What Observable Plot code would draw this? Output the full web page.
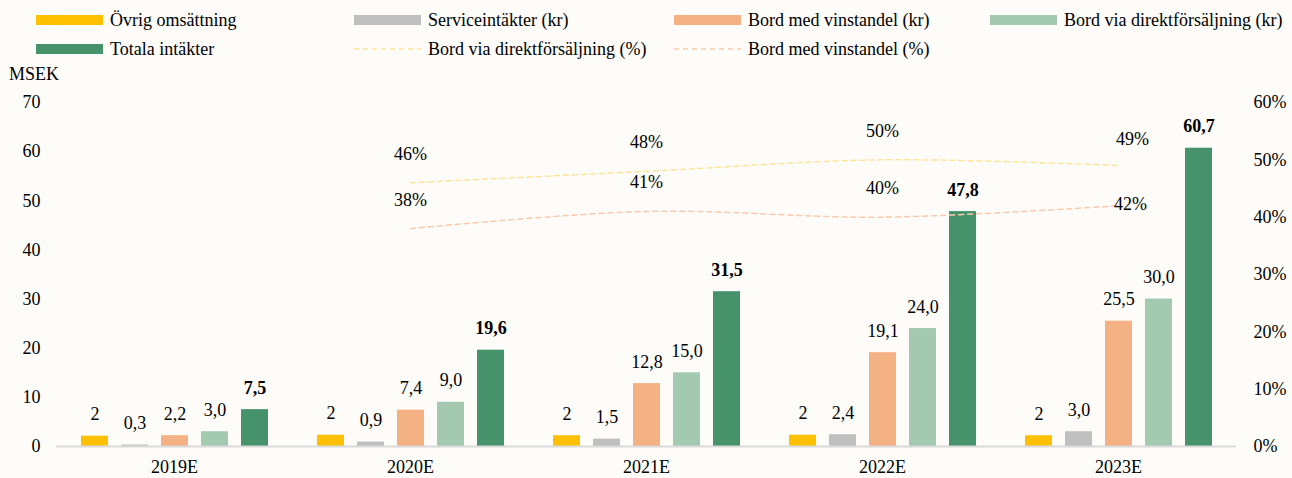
<!DOCTYPE html>
<html>
<head>
<meta charset="utf-8">
<script src="https://cdn.jsdelivr.net/npm/d3@7"></script>
<script src="https://cdn.jsdelivr.net/npm/@observablehq/plot@0.6"></script>
<style>
  html, body { margin: 0; padding: 0; background: #fdfcf9; }
  #wrap { position: relative; width: 1292px; height: 478px; font-family: "Liberation Serif", "Times New Roman", serif; color: #000; background: #fdfcf9; overflow: hidden; }
  #wrap svg { position: absolute; left: 0; top: 0; }
  .leg { position: absolute; display: flex; align-items: center; font-size: 18px; white-space: nowrap; line-height: 1; }
  .sw { width: 67px; height: 10px; margin-right: 7px; display: block; }
  .ds { width: 67px; height: 10px; margin-right: 7px; display: block; }
  #unit { position: absolute; left: 9px; top: 64px; font-size: 18px; line-height: 1.2; }
</style>
</head>
<body>
<div id="wrap">
  <div id="legend"></div>
  <div id="unit">MSEK</div>
</div>
<script>
// ---- data ----
const years = ["2019E", "2020E", "2021E", "2022E", "2023E"];
const seriesNames = ["Övrig omsättning", "Serviceintäkter (kr)", "Bord med vinstandel (kr)", "Bord via direktförsäljning (kr)", "Totala intäkter"];
const ovrig = [2.1, 2.3, 2.2, 2.3, 2.2];
const service = [0.3, 0.9, 1.5, 2.4, 3.0];
const vinstandel = [2.2, 7.4, 12.8, 19.1, 25.5];
const direkt = [3.0, 9.0, 15.0, 24.0, 30.0];
const totala = [7.5, 19.6, 31.5, 47.8, 60.7];
const pctYears = ["2020E", "2021E", "2022E", "2023E"];
const direktPctName = "Bord via direktförsäljning (%)";
const vinstandelPctName = "Bord med vinstandel (%)";
const direktPct = [46, 48, 50, 49];
const vinstandelPct = [38, 41, 40, 42];
const yTicks = [0, 10, 20, 30, 40, 50, 60, 70];
const pctTicks = [0, 10, 20, 30, 40, 50, 60];

// ---- styles ----
const barColors = ["#ffc000", "#bfbfbf", "#f4b183", "#a3c9b1", "#46926a"];
const direktPctColor = "#ffe49a";
const vinstandelPctColor = "#f8cbad";
const fontFamily = '"Liberation Serif", "Times New Roman", serif';

const seriesValues = [ovrig, service, vinstandel, direkt, totala];
const rows = years.flatMap((yr, i) => seriesNames.map((s, k) => {
  const v = seriesValues[k][i];
  return {year: yr, series: s, k, value: v,
    label: k === 0 ? d3.format(".0f")(v) : v.toFixed(1).replace(".", ",")};
}));
const pctRows = [
  ...pctYears.map((yr, i) => ({year: yr, series: direktPctName, value: direktPct[i]})),
  ...pctYears.map((yr, i) => ({year: yr, series: vinstandelPctName, value: vinstandelPct[i]}))
];
const lastYear = pctYears[pctYears.length - 1];

const W = 1292, H = 478;
const margins = {marginLeft: 54, marginRight: 55, marginTop: 102, marginBottom: 32};

const main = Plot.plot({
  width: W, height: H, ...margins,
  style: {background: "transparent", fontFamily, fontSize: "18px", color: "#000"},
  fx: {domain: years, padding: 0, label: null, axis: "bottom", tickSize: 0, tickPadding: 14},
  x: {domain: seriesNames, paddingInner: 0.33, paddingOuter: 0.6, axis: null},
  y: {domain: [0, 70], ticks: yTicks, tickSize: 0, tickPadding: 16, label: null},
  color: {domain: seriesNames, range: barColors},
  marks: [
    Plot.barY(rows, {fx: "year", x: "series", y: "value", fill: "series"}),
    Plot.ruleY([0], {stroke: "#d9d9d9", strokeWidth: 2}),
    Plot.text(rows.filter(d => d.k < 4), {fx: "year", x: "series", y: "value", text: "label", lineAnchor: "bottom", dy: -16, fill: "#000"}),
    Plot.text(rows.filter(d => d.k === 4), {fx: "year", x: "series", y: "value", text: "label", lineAnchor: "bottom", dy: -16, fill: "#000", fontWeight: "bold"})
  ]
});

const overlay = Plot.plot({
  width: W, height: H, ...margins,
  style: {background: "transparent", fontFamily, fontSize: "18px", color: "#000", pointerEvents: "none"},
  x: {type: "band", domain: years, padding: 0, axis: null},
  y: {domain: [0, 60], axis: "right", ticks: pctTicks, tickFormat: d => d + "%", tickSize: 0, tickPadding: 16, label: null},
  marks: [
    Plot.line(pctRows.filter(d => d.series === direktPctName), {x: "year", y: "value", stroke: direktPctColor, strokeWidth: 1.5, strokeDasharray: "5,4", curve: "catmull-rom"}),
    Plot.line(pctRows.filter(d => d.series === vinstandelPctName), {x: "year", y: "value", stroke: vinstandelPctColor, strokeWidth: 1.5, strokeDasharray: "5,4", curve: "catmull-rom"}),
    Plot.text(pctRows.filter(d => d.year !== lastYear), {x: "year", y: "value", text: d => d.value + "%", lineAnchor: "bottom", dy: -23, fill: "#000"}),
    Plot.text(pctRows.filter(d => d.year === lastYear && d.series === direktPctName), {x: "year", y: "value", text: d => d.value + "%", lineAnchor: "bottom", dy: -21, dx: 14, fill: "#000"}),
    Plot.text(pctRows.filter(d => d.year === lastYear && d.series === vinstandelPctName), {x: "year", y: "value", text: d => d.value + "%", lineAnchor: "middle", dy: -1, dx: 12, fill: "#000"})
  ]
});

const wrap = document.getElementById("wrap");
wrap.appendChild(main);
wrap.appendChild(overlay);

// ---- legend ----
const legendItems = [
  {name: seriesNames[0], type: "bar", color: barColors[0], x: 36, y: 20},
  {name: seriesNames[1], type: "bar", color: barColors[1], x: 354, y: 20},
  {name: seriesNames[2], type: "bar", color: barColors[2], x: 674, y: 20},
  {name: seriesNames[3], type: "bar", color: barColors[3], x: 990, y: 20},
  {name: seriesNames[4], type: "bar", color: barColors[4], x: 36, y: 49},
  {name: direktPctName, type: "line", color: direktPctColor, x: 354, y: 49},
  {name: vinstandelPctName, type: "line", color: vinstandelPctColor, x: 674, y: 49}
];
const legend = document.getElementById("legend");
for (const it of legendItems) {
  const el = document.createElement("div");
  el.className = "leg";
  el.style.left = it.x + "px";
  el.style.top = (it.y - 10) + "px";
  el.style.height = "20px";
  if (it.type === "bar") {
    el.innerHTML = `<span class="sw" style="background:${it.color}"></span><span>${it.name}</span>`;
  } else {
    el.innerHTML = `<svg class="ds" width="67" height="10" style="position:static"><line x1="0" x2="67" y1="5" y2="5" stroke="${it.color}" stroke-width="1.5" stroke-dasharray="5,4"/></svg><span>${it.name}</span>`;
  }
  legend.appendChild(el);
}
</script>
</body>
</html>
